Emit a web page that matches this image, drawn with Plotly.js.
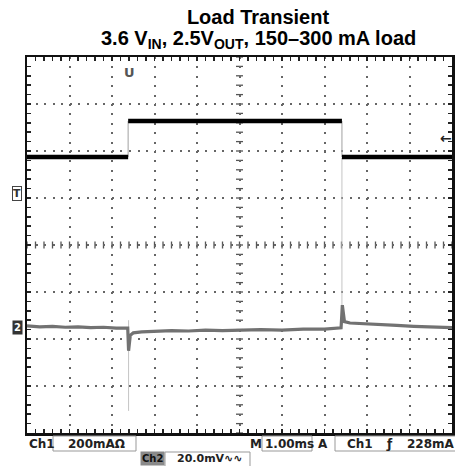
<!DOCTYPE html>
<html>
<head>
<meta charset="utf-8">
<script src="https://cdn.plot.ly/plotly-3.0.1.min.js"></script>
<style>html,body{margin:0;padding:0;background:#fff;}#chart{width:455px;height:466px;}</style>
</head>
<body>
<div id="chart"></div>
<script>
// ---- data (time in ms = 1 div each, amplitude in screen divisions) ----
const currentEdges = [0, 2.38, 7.41, 10];          // ms, step times of load current
const currentLevels = [5.87, 6.64, 5.87];          // div, Ch1 level in each interval
const voltageTime = [0, 0.3, 0.6, 0.9, 1.2, 1.5, 1.8, 2.1, 2.37, 2.39, 2.43, 2.5, 2.7, 3.0, 3.4, 3.8, 4.2, 4.6, 5.0, 5.5, 6.0, 6.5, 7.0, 7.39, 7.42, 7.47, 7.6, 7.9, 8.3, 8.7, 9.1, 9.5, 10];
const voltageLevel = [2.28, 2.26, 2.27, 2.25, 2.26, 2.24, 2.25, 2.23, 2.23, 1.75, 2.08, 2.13, 2.15, 2.16, 2.18, 2.17, 2.19, 2.18, 2.19, 2.20, 2.19, 2.21, 2.21, 2.24, 2.72, 2.37, 2.34, 2.33, 2.31, 2.29, 2.27, 2.26, 2.24];
const spikeTime = [2.39, 7.41];
const spikeFrom = [2.40, 2.30];
const spikeTo = [0.47, 5.85];

// ---- build traces ----
const cx = [], cy = [], ex = [], ey = [];
for (let i = 0; i < currentLevels.length; i++) {
  cx.push(currentEdges[i], currentEdges[i + 1], null);
  cy.push(currentLevels[i], currentLevels[i], null);
  if (i > 0) {
    ex.push(currentEdges[i], currentEdges[i], null);
    ey.push(currentLevels[i - 1], currentLevels[i], null);
  }
}
const sx = [], sy = [];
for (let i = 0; i < spikeTime.length; i++) {
  sx.push(spikeTime[i], spikeTime[i], null);
  sy.push(spikeFrom[i], spikeTo[i], null);
}

const traces = [
  {x: sx, y: sy, mode: 'lines', line: {color: '#c4c4c4', width: 1}, hoverinfo: 'skip', showlegend: false},
  {x: ex, y: ey, mode: 'lines', line: {color: '#b0b0b0', width: 1.2}, hoverinfo: 'skip', showlegend: false},
  {x: voltageTime, y: voltageLevel, mode: 'lines', line: {color: '#727272', width: 3.2}, showlegend: false},
  {x: cx, y: cy, mode: 'lines', line: {color: '#000', width: 4.5}, showlegend: false}
];

// ---- layout helpers (pixel -> paper) ----
const L = 27, R = 452, T = 57, B = 433;
const px = v => (v - L) / (R - L);
const py = v => (B - v) / (B - T);

const shapes = [];
// crosshair ticks on centre lines
for (let k = 0; k <= 50; k++) {
  shapes.push({type: 'line', xref: 'x', yref: 'y', x0: k * 0.2, x1: k * 0.2, ysizemode: 'pixel', yanchor: 4, y0: -3.5, y1: 3.5, line: {color: '#555', width: 1.3}, layer: 'below'});
}
for (let k = 0; k <= 40; k++) {
  shapes.push({type: 'line', xref: 'x', yref: 'y', y0: k * 0.2, y1: k * 0.2, xsizemode: 'pixel', xanchor: 5, x0: -3.5, x1: 3.5, line: {color: '#555', width: 1.3}, layer: 'below'});
}
// readout boxes
const box = (x0, x1, y0, y1) => ({type: 'rect', xref: 'paper', yref: 'paper', x0: px(x0), x1: px(x1), y0: py(y1), y1: py(y0), line: {color: '#999', width: 1}});
shapes.push(box(53, 136, 436, 451), box(262, 312, 436, 451), box(335, 456, 436, 451), box(165, 250, 452, 468));

const mono = {family: 'DejaVu Sans', size: 12, color: '#222', weight: 'bold'};
const txt = (text, x, y, extra) => Object.assign({text: text, xref: 'paper', yref: 'paper', x: px(x), y: py(y), xanchor: 'left', yanchor: 'middle', showarrow: false, font: mono}, extra || {});

const annotations = [
  {text: '3.6 V<sub>IN</sub>, 2.5V<sub>OUT</sub>, 150–300 mA load', xref: 'paper', yref: 'paper', x: px(258), y: py(40), xanchor: 'center', yanchor: 'middle', showarrow: false,
   font: {family: 'Liberation Sans, Arial', size: 20, color: '#000', weight: 'bold'}},
  txt('Ch1', 27, 444),
  txt('200mAΩ', 66, 444),
  txt('M', 248, 444),
  txt('1.00ms', 263, 444),
  txt('A', 316, 444),
  txt('Ch1', 345, 444),
  txt('ƒ', 384, 444),
  txt('228mA', 405, 444),
  txt('Ch2', 140, 458, {bgcolor: '#8a8a8a', font: {family: 'DejaVu Sans', size: 10, color: '#111', weight: 'bold'}}),
  txt('20.0mV∿∿', 175, 458, {font: {family: 'DejaVu Sans', size: 11, color: '#222', weight: 'bold'}}),
  // screen markers
  {text: 'U', xref: 'paper', yref: 'paper', x: px(129), y: py(72), xanchor: 'center', yanchor: 'middle', showarrow: false, font: {family: 'DejaVu Sans', size: 13, color: '#555', weight: 'bold'}},
  {text: 'T', xref: 'paper', yref: 'paper', x: px(17), y: py(193), xanchor: 'center', yanchor: 'middle', showarrow: false, bordercolor: '#444', borderwidth: 1, borderpad: 0, font: {family: 'DejaVu Sans', size: 11, color: '#333', weight: 'bold'}},
  {text: '2', xref: 'paper', yref: 'paper', x: px(17), y: py(327), xanchor: 'center', yanchor: 'middle', showarrow: false, bgcolor: '#333', borderpad: 1, font: {family: 'DejaVu Sans', size: 10, color: '#fff', weight: 'bold'}},
  {text: '←', xref: 'paper', yref: 'paper', x: px(446), y: py(138), xanchor: 'center', yanchor: 'middle', showarrow: false, font: {family: 'DejaVu Sans', size: 14, color: '#222', weight: 'bold'}}
];

const layout = {
  width: 455, height: 466,
  margin: {l: L, r: 455 - R, t: T, b: 466 - B, pad: 0},
  paper_bgcolor: '#fff', plot_bgcolor: '#fff',
  title: {text: 'Load Transient', x: 258 / 455, xanchor: 'center', xref: 'container', y: 1 - 17 / 466, yanchor: 'middle', yref: 'container',
          font: {family: 'Liberation Sans, Arial', size: 20, color: '#000', weight: 'bold'}},
  xaxis: {range: [0, 10], dtick: 1, tick0: 0, showticklabels: false, zeroline: false,
          showgrid: true, gridcolor: '#666', gridwidth: 2, griddash: '2px,7.4px',
          ticks: 'inside', ticklen: 4, tickcolor: '#222', tickwidth: 1.5,
          minor: {dtick: 0.2, ticks: 'inside', ticklen: 4, tickcolor: '#222', tickwidth: 1.5, showgrid: false},
          showline: true, linecolor: '#111', linewidth: 2.5, mirror: 'allticks', fixedrange: true},
  yaxis: {range: [0, 8], dtick: 1, tick0: 0, showticklabels: false, zeroline: false,
          showgrid: true, gridcolor: '#666', gridwidth: 2, griddash: '2px,6.5px',
          ticks: 'inside', ticklen: 4, tickcolor: '#222', tickwidth: 1.5,
          minor: {dtick: 0.2, ticks: 'inside', ticklen: 4, tickcolor: '#222', tickwidth: 1.5, showgrid: false},
          showline: true, linecolor: '#111', linewidth: 2.5, mirror: 'allticks', fixedrange: true},
  shapes: shapes,
  annotations: annotations,
  showlegend: false
};

Plotly.newPlot('chart', traces, layout, {staticPlot: true, displayModeBar: false});
</script>
</body>
</html>
